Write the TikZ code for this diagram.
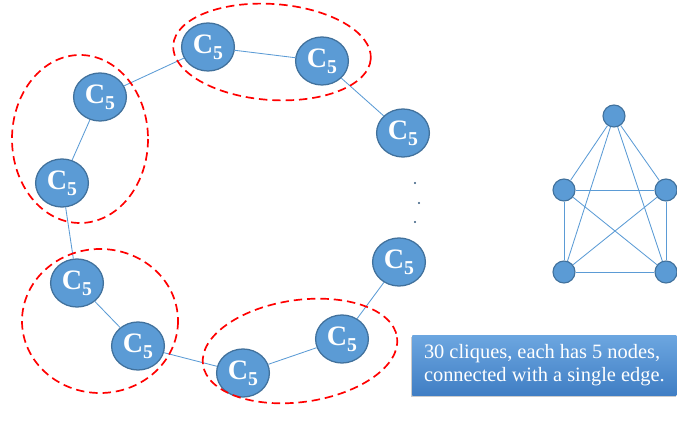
\documentclass[tikz,border=0pt]{standalone}
\usepackage{fontspec}
\setmainfont{Liberation Serif}
\usetikzlibrary{shapes.geometric, shadows, positioning}
\definecolor{cliqblue}{RGB}{91, 155, 213}
\definecolor{cliqedge}{RGB}{65, 113, 156}
\definecolor{grpred}{RGB}{255, 0, 0}
\definecolor{boxtop}{RGB}{108, 166, 224}
\definecolor{boxbot}{RGB}{64, 126, 196}
\tikzset{
  clique/.style={ellipse, fill=cliqblue, draw=cliqedge, line width=0.9pt,
    minimum width=1.32cm, minimum height=1.2cm, inner sep=0pt, text=white,
    font=\fontsize{20}{20}\selectfont\bfseries},
  link/.style={draw=cliqblue, line width=0.6pt},
  group/.style={draw=grpred, line width=1.2pt, dash pattern=on 6pt off 3.5pt},
  knode/.style={circle, fill=cliqblue, draw=cliqedge, line width=0.8pt,
    minimum size=0.55cm, inner sep=0pt},
  dotmark/.style={circle, fill=cliqedge!80!black, inner sep=0pt, minimum size=1.6pt}
}
\newcommand{\cfive}{C\raisebox{-0.45ex}{\fontsize{14}{14}\selectfont 5}}
\begin{document}
\begin{tikzpicture}[x=0.025cm, y=-0.025cm]
  \useasboundingbox (0,0) rectangle (677,425);

  % Ring of cliques
  \node[clique] (a) at (208, 47) {\cfive};
  \node[clique] (b) at (322, 61) {\cfive};
  \node[clique] (c) at (403, 133) {\cfive};
  \node[clique] (d) at (399, 262) {\cfive};
  \node[clique] (e) at (342, 339) {\cfive};
  \node[clique] (f) at (243, 373) {\cfive};
  \node[clique] (g) at (138, 346) {\cfive};
  \node[clique] (h) at (77, 283) {\cfive};
  \node[clique] (i) at (62, 183) {\cfive};
  \node[clique] (j) at (100, 97) {\cfive};
  \foreach \u/\v in {a/b, b/c, d/e, e/f, f/g, g/h, h/i, i/j, j/a}
    \draw[link] (\u) -- (\v);

  % Dots between c and d
  \node[dotmark] (dot1) at (415, 183) {};
  \node[dotmark] (dot2) at (419, 203) {};
  \node[dotmark] (dot3) at (415, 222) {};

  % Dashed groups
  \draw[group, rotate around={-4:(272,52)}] (272,52) ellipse [x radius=99, y radius=48];
  \draw[group] (80,139) ellipse [x radius=68, y radius=84];
  \draw[group] (100,321) ellipse [x radius=78, y radius=72];
  \draw[group, rotate around={8:(300,351)}] (300,351) ellipse [x radius=98, y radius=51];

  % Right: one clique K5
  \node[knode] (k1) at (614, 116) {};
  \node[knode] (k2) at (564, 190) {};
  \node[knode] (k3) at (666, 190) {};
  \node[knode] (k4) at (564, 272) {};
  \node[knode] (k5) at (666, 272) {};
  \foreach \u/\v in {k1/k2, k1/k3, k1/k4, k1/k5, k2/k3, k2/k4, k2/k5, k3/k4, k3/k5, k4/k5}
    \draw[link] (\u) -- (\v);

  % Caption box
  \node[draw=none, top color=boxtop, bottom color=boxbot,
    drop shadow={shadow xshift=-0.6pt, shadow yshift=-1.2pt, opacity=0.4},
    minimum width=6.6cm, minimum height=1.5cm, anchor=north west,
    text=white, align=left, font=\fontsize{14.5}{16}\selectfont]
    (note) at (412, 335) {30 cliques, each has 5 nodes,\\connected with a single edge.};
\end{tikzpicture}
\end{document}
